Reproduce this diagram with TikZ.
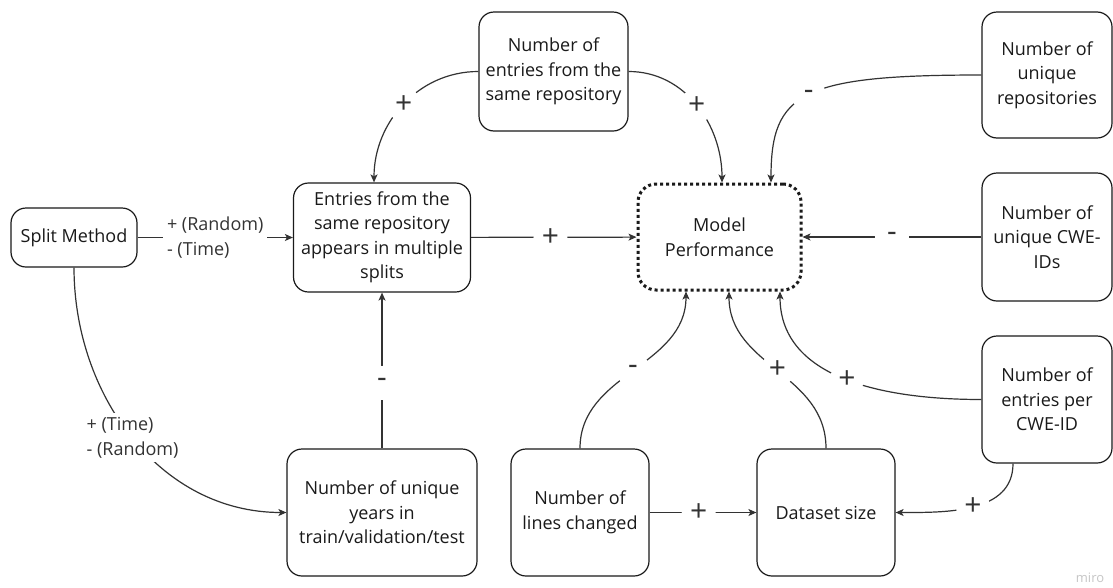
\documentclass[tikz,border=0pt]{standalone}
\usepackage{fontspec}
\setmainfont{Open Sans}
\usetikzlibrary{arrows.meta}
\definecolor{boxc}{HTML}{1A1A1A}
\definecolor{edgec}{HTML}{333333}
\definecolor{txt}{HTML}{1A1A1A}
\begin{document}
\begin{tikzpicture}[x=1pt,y=-1pt,
  box/.style={draw=boxc, line width=1.2pt, rounded corners=15pt, align=center, inner sep=0pt, font=\fontsize{18}{24.5}\selectfont, text=txt},
  perfbox/.style={box, line width=3pt, dash pattern=on 3pt off 3pt, rounded corners=18pt},
  conn/.style={draw=edgec, line width=1.2pt, -{Stealth[length=8pt,width=7pt,inset=2pt]}},
  sgn/.style={circle, fill=white, inner sep=0pt, minimum size=34pt, font=\fontsize{30}{30}\selectfont, text=edgec},
  cond/.style={fill=white, align=left, inner sep=4pt, font=\fontsize{18}{25}\selectfont, text=edgec}]
\useasboundingbox (0,0) rectangle (1113,587);
\fill[white] (0,0) rectangle (1113,587);

\node[box, minimum width=126pt, minimum height=59pt] (split) at (74,237.5) {Split Method};
\node[box, minimum width=177pt, minimum height=109pt] (entries) at (382,237.5) {Entries from the\\same repository\\appears in multiple\\splits};
\node[box, minimum width=149pt, minimum height=119pt] (samerepo) at (553.5,71.5) {Number of\\entries from the\\same repository};
\node[perfbox, minimum width=163pt, minimum height=106pt] (perf) at (719.5,237) {Model\\Performance};
\node[box, minimum width=130pt, minimum height=126pt] (repos) at (1047,75) {Number of\\unique\\repositories};
\node[box, minimum width=130pt, minimum height=128pt] (cwe) at (1047,237) {Number of\\unique CWE-\\IDs};
\node[box, minimum width=130pt, minimum height=127pt] (percwe) at (1047,399.5) {Number of\\entries per\\CWE-ID};
\node[box, minimum width=190pt, minimum height=127pt] (years) at (382,512.5) {Number of unique\\years in\\train/validation/test};
\node[box, minimum width=138pt, minimum height=127pt] (lines) at (580,512.5) {Number of\\lines changed};
\node[box, minimum width=138pt, minimum height=127pt] (dataset) at (826,512.5) {Dataset size};

\draw[conn] (split) -- (entries) node[cond, pos=0.5] {+ (Random)\\- (Time)};
\draw[conn] (split.south) .. controls +(0,127) and +(-127,0) .. (years.west) node[cond, pos=0.5] {+ (Time)\\- (Random)};
\draw[conn] (years) -- (entries) node[sgn, pos=0.42] {-};
\draw[conn] (entries) -- (perf) node[sgn, pos=0.48] {+};
\draw[conn] (samerepo.west) .. controls +(-60,0) and +(0,-60) .. ([xshift=-8pt]entries.north) node[sgn, pos=0.5] {+};
\draw[conn] (samerepo.east) .. controls +(57,0) and +(0,-57) .. ([xshift=2.5pt]perf.north) node[sgn, pos=0.5] {+};
\draw[conn] (repos.west) .. controls +(-180,0) and +(0,-90) .. ([xshift=51.5pt]perf.north) node[sgn, pos=0.5] {-};
\draw[conn] (cwe) -- (perf) node[sgn, pos=0.5] {-};
\draw[conn] (lines.north) .. controls +(0,-75) and +(0,75) .. ([xshift=-33.5pt]perf.south) node[sgn, pos=0.5] {-};
\draw[conn] (dataset.north) .. controls +(0,-75) and +(0,75) .. ([xshift=9.5pt]perf.south) node[sgn, pos=0.5] {+};
\draw[conn] (percwe.west) .. controls +(-90,0) and +(0,90) .. ([xshift=60.5pt]perf.south) node[sgn, pos=0.5] {+};
\draw[conn] (lines) -- (dataset) node[sgn, pos=0.46] {+};
\draw[conn] ([xshift=-34pt]percwe.south) .. controls +(0,50) and +(50,0) .. (dataset.east) node[sgn, pos=0.5] {+};

\node[text=gray!45, font=\fontsize{13}{13}\selectfont] (miro) at (1090,578) {miro};
\end{tikzpicture}
\end{document}
